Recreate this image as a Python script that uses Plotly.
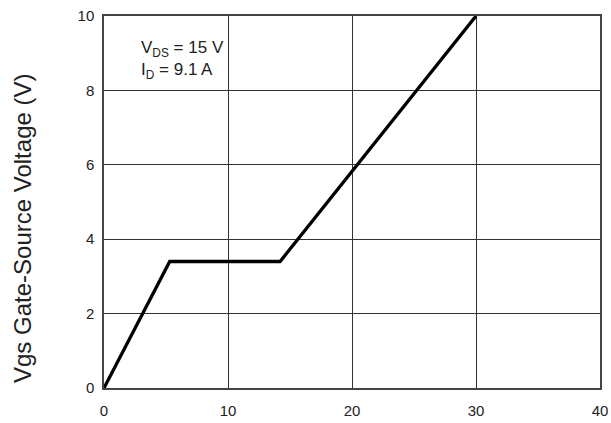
import plotly.graph_objects as go

# Gate charge curve (Qg in nC vs Vgs in V)
qg = [0, 5.3, 14.2, 30]
vgs = [0, 3.4, 3.4, 10]

x_ticks = [0, 10, 20, 30, 40]
y_ticks = [0, 2, 4, 6, 8, 10]

FONT = "Liberation Sans, Arial"

fig = go.Figure()
fig.add_trace(go.Scatter(x=qg, y=vgs, mode="lines",
                         line=dict(color="black", width=3.3), showlegend=False))

axis_common = dict(showgrid=True, gridcolor="#333333", gridwidth=1,
                   showline=True, linecolor="#444444", linewidth=1.5, mirror=True,
                   zeroline=False, ticks="outside", tickcolor="rgba(0,0,0,0)",
                   automargin=False,
                   tickfont=dict(family=FONT, size=15, color="#222222"))

fig.update_layout(
    width=611, height=423,
    margin=dict(l=104, r=11, t=16, b=35),
    paper_bgcolor="white", plot_bgcolor="white",
    xaxis=dict(range=[0, 40], tickvals=x_ticks, ticklen=8, **axis_common),
    yaxis=dict(range=[0, 10], tickvals=y_ticks, ticklen=5, **axis_common),
)

fig.add_annotation(xref="paper", yref="paper", x=(23 - 104) / 496, y=(388 - 228) / 372,
                   xanchor="center", yanchor="middle",
                   text="Vgs Gate-Source Voltage (V)", textangle=-90, showarrow=False,
                   font=dict(family=FONT, size=24, color="#222222"))
fig.add_annotation(xref="x", yref="y", x=2.85, y=8.83, xanchor="left", yanchor="middle",
                   align="left",
                   text="V<sub>DS</sub> = 15 V<br>I<sub>D</sub> = 9.1 A", showarrow=False,
                   font=dict(family=FONT, size=17, color="#222222"))

fig.write_html("out.html")
